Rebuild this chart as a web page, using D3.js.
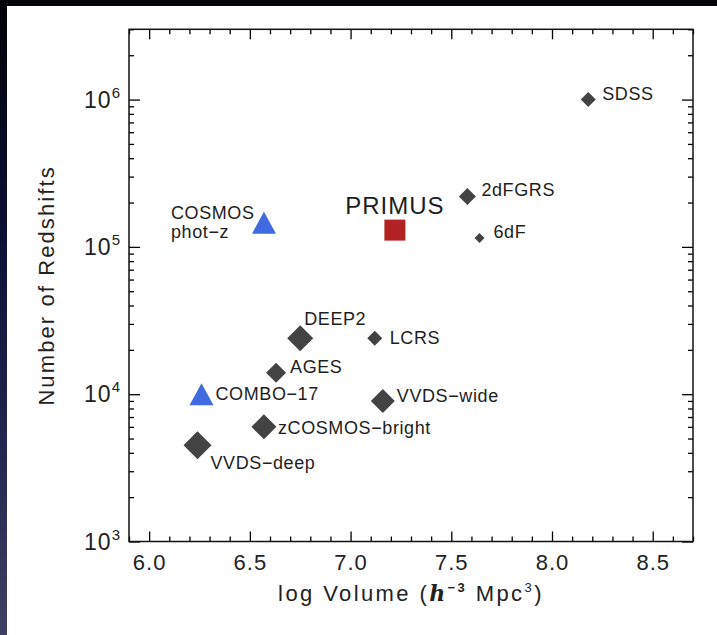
<!DOCTYPE html>
<html>
<head>
<meta charset="utf-8">
<script src="https://cdn.jsdelivr.net/npm/d3@7"></script>
<style>
  html, body { margin: 0; padding: 0; background: #ffffff; }
  svg { display: block; font-family: "Liberation Sans", Arial, Helvetica, sans-serif; }
</style>
</head>
<body>
<svg id="chart" width="717" height="635"></svg>
<script>
// Galaxy redshift surveys: survey volume against number of redshifts
const surveyNames    = ["SDSS", "2dFGRS", "6dF", "LCRS", "DEEP2", "AGES", "COMBO−17",
                        "zCOSMOS−bright", "VVDS−wide", "VVDS−deep", "COSMOS\nphot−z", "PRIMUS"];
const logVolume      = [8.18, 7.58, 7.64, 7.12, 6.75, 6.63, 6.26, 6.57, 7.16, 6.24, 6.57, 7.22];
const redshiftCounts = [1.0e6, 2.2e5, 1.15e5, 2.4e4, 2.4e4, 1.4e4, 1.0e4, 6.0e3, 9.0e3, 4.5e3, 1.46e5, 1.3e5];
const surveyKind     = ["spec", "spec", "spec", "spec", "spec", "spec", "photz",
                        "spec", "spec", "spec", "photz", "prism"];

const xTickValues = [6.0, 6.5, 7.0, 7.5, 8.0, 8.5];
const xTickLabels = ["6.0", "6.5", "7.0", "7.5", "8.0", "8.5"];
const yTickValues = [1e3, 1e4, 1e5, 1e6];
const yTickExponents = ["3", "4", "5", "6"];

// marker appearance and label placement per survey
const markerStyle = {
  "SDSS":           { w: 15, dx: 14, dy: -6 },
  "2dFGRS":         { w: 17, dx: 14, dy: -6 },
  "6dF":            { w: 10, dx: 14, dy: -6 },
  "LCRS":           { w: 15, dx: 15, dy: 0 },
  "DEEP2":          { w: 26, dx: 4,  dy: -19 },
  "AGES":           { w: 20, dx: 14, dy: -6 },
  "COMBO−17":       { w: 24, dx: 14, dy: 0 },
  "zCOSMOS−bright": { w: 25, dx: 14, dy: 1 },
  "VVDS−wide":      { w: 24, dx: 14, dy: -5 },
  "VVDS−deep":      { w: 28, dx: 13, dy: 18 },
  "COSMOS\nphot−z": { w: 24, dx: -93, dy: -10, lineGap: 19 },
  "PRIMUS":         { w: 21, dx: 0,  dy: -25, anchor: "middle", size: 24 }
};
const kindColor = { spec: "#434343", photz: "#3f6ae0", prism: "#b22222" };

const W = 717, H = 635;
const plot = { left: 129, right: 693, top: 29.3, bottom: 541.5 };

const svg = d3.select("#chart");

// slide background: dark gradient frame behind a white panel
const defs = svg.append("defs");
const grad = defs.append("linearGradient").attr("id", "frame").attr("x1", 0).attr("y1", 0).attr("x2", 0).attr("y2", 1);
grad.append("stop").attr("offset", "0").attr("stop-color", "#020207");
grad.append("stop").attr("offset", "0.35").attr("stop-color", "#0c0f33");
grad.append("stop").attr("offset", "0.7").attr("stop-color", "#222650");
grad.append("stop").attr("offset", "1").attr("stop-color", "#404062");
svg.append("rect").attr("width", W).attr("height", H).attr("fill", "url(#frame)");
svg.append("rect").attr("x", 7).attr("y", 6).attr("width", W - 7).attr("height", H - 6).attr("fill", "#ffffff");

const x = d3.scaleLinear().domain([5.9, 8.7]).range([plot.left, plot.right]);
const y = d3.scaleLog().domain([1e3, 3e6]).range([plot.bottom, plot.top]);

// minor tick positions
const xMinor = d3.range(59, 88).map(v => v / 10).filter(v => !xTickValues.some(t => Math.abs(t - v) < 1e-9));
const yMinor = [];
for (let e = 3; e <= 6; e++) for (let m = 2; m <= 9; m++) { const v = m * Math.pow(10, e); if (v <= 3e6) yMinor.push(v); }

function styleAxis(g) {
  g.select(".domain").remove();
  g.selectAll(".tick line").attr("stroke", "#000").attr("stroke-width", 1.3);
}

// bottom axis with labels
svg.append("g").attr("transform", `translate(0,${plot.bottom})`)
  .call(d3.axisBottom(x).tickValues(xTickValues).tickFormat((d, i) => xTickLabels[i])
    .tickSize(-10).tickSizeOuter(0).tickPadding(13))
  .call(styleAxis)
  .call(g => g.selectAll("text").attr("font-size", 22).attr("fill", "#222")
    .attr("font-family", "\"Liberation Sans\", Arial, sans-serif").attr("letter-spacing", "1px"));
svg.append("g").attr("transform", `translate(0,${plot.bottom})`)
  .call(d3.axisBottom(x).tickValues(xMinor).tickFormat("").tickSize(-5).tickSizeOuter(0))
  .call(styleAxis);
// top axis (ticks only)
svg.append("g").attr("transform", `translate(0,${plot.top})`)
  .call(d3.axisTop(x).tickValues(xTickValues).tickFormat("").tickSize(-10).tickSizeOuter(0))
  .call(styleAxis);
svg.append("g").attr("transform", `translate(0,${plot.top})`)
  .call(d3.axisTop(x).tickValues(xMinor).tickFormat("").tickSize(-5).tickSizeOuter(0))
  .call(styleAxis);

// left and right axes
svg.append("g").attr("transform", `translate(${plot.left},0)`)
  .call(d3.axisLeft(y).tickValues(yTickValues).tickFormat("").tickSize(-11).tickSizeOuter(0))
  .call(styleAxis);
svg.append("g").attr("transform", `translate(${plot.left},0)`)
  .call(d3.axisLeft(y).tickValues(yMinor).tickFormat("").tickSize(-5).tickSizeOuter(0))
  .call(styleAxis);
svg.append("g").attr("transform", `translate(${plot.right},0)`)
  .call(d3.axisRight(y).tickValues(yTickValues).tickFormat("").tickSize(-11).tickSizeOuter(0))
  .call(styleAxis);
svg.append("g").attr("transform", `translate(${plot.right},0)`)
  .call(d3.axisRight(y).tickValues(yMinor).tickFormat("").tickSize(-5).tickSizeOuter(0))
  .call(styleAxis);

// power-of-ten labels
const yLab = svg.append("g").attr("fill", "#222");
yTickValues.forEach((v, i) => {
  const t = yLab.append("text")
    .attr("x", plot.left - 8).attr("y", y(v) + 8)
    .attr("text-anchor", "end").attr("font-size", 23).attr("letter-spacing", "1px");
  t.append("tspan").text("10");
  t.append("tspan").attr("dy", -10).attr("font-size", 15).text(yTickExponents[i]);
});

// frame
svg.append("rect")
  .attr("x", plot.left).attr("y", plot.top)
  .attr("width", plot.right - plot.left).attr("height", plot.bottom - plot.top)
  .attr("fill", "none").attr("stroke", "#111").attr("stroke-width", 1.5);

// axis titles
svg.append("text")
  .attr("transform", `translate(46,${(plot.top + plot.bottom) / 2}) rotate(-90)`)
  .attr("text-anchor", "middle").attr("dominant-baseline", "central")
  .attr("font-size", 22).attr("letter-spacing", "2.1px").attr("fill", "#222")
  .text("Number of Redshifts");

const xt = svg.append("text")
  .attr("x", (plot.left + plot.right) / 2).attr("y", 601)
  .attr("text-anchor", "middle").attr("font-size", 22).attr("letter-spacing", "2.4px").attr("fill", "#222");
xt.append("tspan").text("log Volume (");
xt.append("tspan").attr("font-family", "\"DejaVu Serif\", serif").attr("font-style", "italic")
  .attr("font-weight", "bold").text("h");
xt.append("tspan").attr("dy", -9).attr("font-size", 13).attr("font-weight", "bold").text("−3");
xt.append("tspan").attr("dy", 9).text(" Mpc");
xt.append("tspan").attr("dy", -9).attr("font-size", 13).text("3");
xt.append("tspan").attr("dy", 9).text(")");

// custom symbols
const diamond = {
  draw(ctx, size) { const r = size / 2; ctx.moveTo(0, -r); ctx.lineTo(r, 0); ctx.lineTo(0, r); ctx.lineTo(-r, 0); ctx.closePath(); }
};
const triangleUp = {
  draw(ctx, size) { const w = size, h = size * 0.92; ctx.moveTo(0, -h / 2); ctx.lineTo(w / 2, h / 2); ctx.lineTo(-w / 2, h / 2); ctx.closePath(); }
};
const square = {
  draw(ctx, size) { const r = size / 2; ctx.rect(-r, -r, size, size); }
};
const shapeFor = { spec: diamond, photz: triangleUp, prism: square };

const data = surveyNames.map((name, i) => ({
  name, v: logVolume[i], n: redshiftCounts[i], kind: surveyKind[i], st: markerStyle[name]
}));

const marks = svg.append("g");
marks.selectAll("path").data(data).join("path")
  .attr("transform", d => `translate(${x(d.v)},${y(d.n)})`)
  .attr("d", d => d3.symbol().type(shapeFor[d.kind]).size(d.st.w)())
  .attr("fill", d => kindColor[d.kind]);

const labels = svg.append("g").attr("fill", "#1e1e1e");
data.forEach(d => {
  const lines = d.name.split("\n");
  const gap = d.st.lineGap || 0;
  const fs = d.st.size || 18;
  lines.forEach((line, k) => {
    labels.append("text")
      .attr("x", x(d.v) + d.st.dx)
      .attr("y", y(d.n) + d.st.dy + k * gap)
      .attr("dominant-baseline", "central")
      .attr("text-anchor", d.st.anchor || "start")
      .attr("font-size", fs)
      .attr("letter-spacing", d.name === "PRIMUS" ? "1px" : "0.6px")
      .text(line);
  });
});
</script>
</body>
</html>
